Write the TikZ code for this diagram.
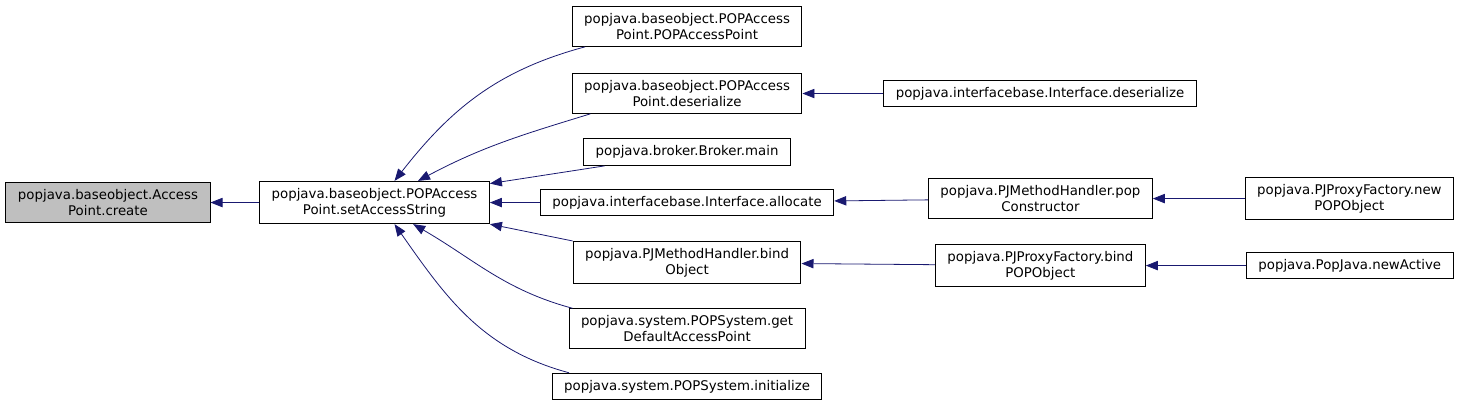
\documentclass[tikz,border=0pt]{standalone}
\usepackage{fontspec}
\newfontfamily\cgfont{DejaVu Sans}
\usepackage{xcolor}
\definecolor{cgedge}{HTML}{191970}
\definecolor{cgroot}{HTML}{BFBFBF}
\usepackage{tikz}
\usetikzlibrary{arrows.meta,positioning}
\tikzset{
  cgbox/.style={draw=black,line width=0.75pt,fill=white,align=center,inner xsep=9pt,inner ysep=5pt,minimum height=20pt,font=\cgfont\fontsize{10}{12}\selectfont},
  cgrootbox/.style={cgbox,fill=cgroot},
  cgcall/.style={draw=cgedge,line width=0.6pt,-{Triangle[length=9pt,width=7pt]}},
}
\begin{document}
\begin{tikzpicture}[on grid]
\node[cgrootbox] (create) at (0,0) {popjava.baseobject.Access\\Point.create};
\node[cgbox,right=199.9pt of create] (setstr){popjava.baseobject.POPAccess\\Point.setAccessString};
\node[cgbox,above right=132pt and 234.4pt of setstr] (ctor){popjava.baseobject.POPAccess\\Point.POPAccessPoint};
\node[cgbox,below=50.25pt of ctor] (deser){popjava.baseobject.POPAccess\\Point.deserialize};
\node[cgbox,below=43.9pt of deser] (bmain){popjava.broker.Broker.main};
\node[cgbox,below=37.9pt of bmain] (alloc){popjava.interfacebase.Interface.allocate};
\node[cgbox,below=45pt of alloc] (bindobj){popjava.PJMethodHandler.bind\\Object};
\node[cgbox,below=49.5pt of bindobj] (getdef){popjava.system.POPSystem.get\\DefaultAccessPoint};
\node[cgbox,below=43.5pt of getdef] (sysinit){popjava.system.POPSystem.initialize};
\node[cgbox,right=264.75pt of deser] (ifdeser){popjava.interfacebase.Interface.deserialize};
\node[cgbox,above right=3pt and 265pt of alloc] (popcons){popjava.PJMethodHandler.pop\\Constructor};
\node[cgbox,below right=2.25pt and 265pt of bindobj] (bindpop){popjava.PJProxyFactory.bind\\POPObject};
\node[cgbox,right=231.75pt of popcons] (newpop){popjava.PJProxyFactory.new\\POPObject};
\node[cgbox,right=232pt of bindpop] (newact){popjava.PopJava.newActive};
\useasboundingbox (-81pt,-151.9pt) rectangle (1013.25pt,151.9pt);
% calls into setAccessString
\draw[cgcall](setstr)--(create);
\draw[cgcall]([xshift=10pt]ctor.south west) to[out=195,in=52] ([xshift=15pt]setstr.north);
\draw[cgcall]([xshift=14pt]deser.south west) to[out=197,in=28] ([xshift=32.6pt]setstr.north);
\draw[cgcall]([xshift=16pt]bmain.south west)--([yshift=-2pt]setstr.north east);
\draw[cgcall](alloc)--(setstr);
\draw[cgcall](bindobj.north west)--(setstr.south east);
\draw[cgcall]([xshift=3pt]getdef.north west) to[out=165,in=-30] ([xshift=29pt]setstr.south);
\draw[cgcall]([xshift=13pt]sysinit.north west) to[out=165,in=-55] ([xshift=15pt]setstr.south);
% further callers
\draw[cgcall](ifdeser)--(deser);\draw[cgcall](popcons)--(alloc);\draw[cgcall](bindpop)--(bindobj);
\draw[cgcall](newpop)--(popcons);\draw[cgcall](newact)--(bindpop);
\end{tikzpicture}
\end{document}
